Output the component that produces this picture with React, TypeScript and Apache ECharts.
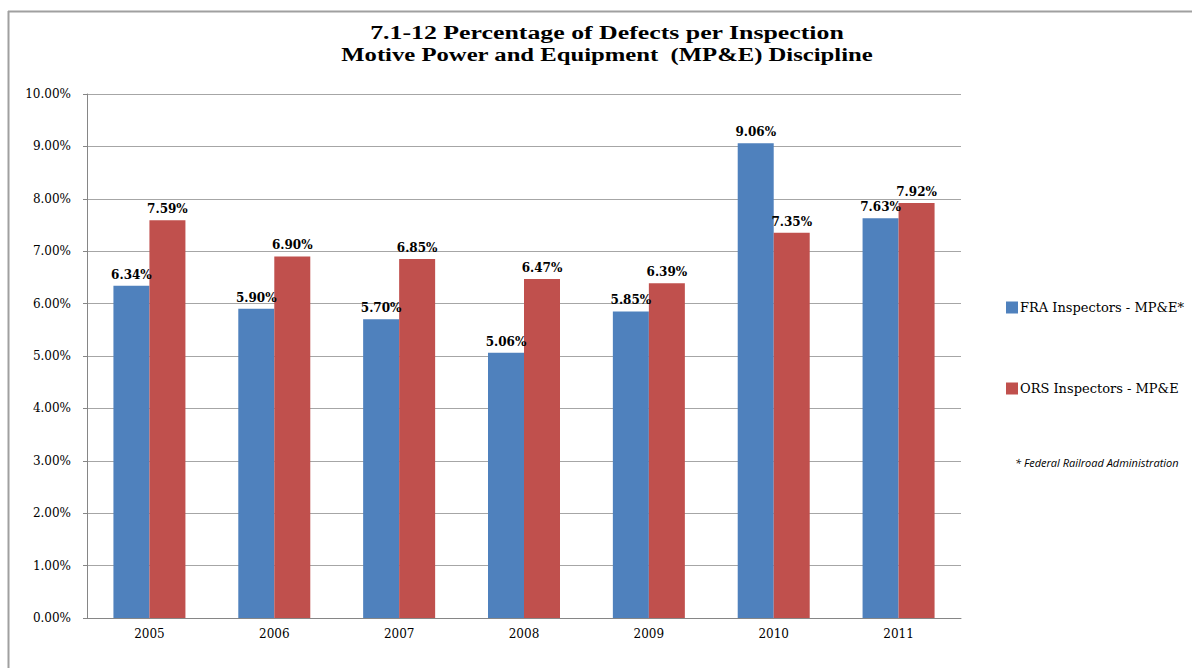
import React, { useEffect, useRef } from "react";
import * as echarts from "echarts";

const years = ["2005", "2006", "2007", "2008", "2009", "2010", "2011"];
const fraValues = [6.34, 5.9, 5.7, 5.06, 5.85, 9.06, 7.63];
const orsValues = [7.59, 6.9, 6.85, 6.47, 6.39, 7.35, 7.92];
const seriesNames = ["FRA Inspectors - MP&E*", "ORS Inspectors - MP&E"];
const titleLines = [
  "7.1-12 Percentage of Defects per Inspection",
  "Motive Power and Equipment  (MP&E) Discipline",
];
const footnote = "* Federal Railroad Administration";

const SERIF = "'Liberation Serif', 'Times New Roman', serif";
const WIDE = "'DejaVu Serif', serif";

export default function App() {
  const ref = useRef<HTMLDivElement>(null);
  useEffect(() => {
    if (!ref.current) return;
    const chart = echarts.init(ref.current, null, { renderer: "svg" });
    const labelOpt = {
      show: true,
      position: "top",
      distance: 5,
      color: "#000",
      fontFamily: WIDE,
      fontWeight: "bold",
      fontSize: 12,
      formatter: (p: any) => p.value.toFixed(2) + "%",
    };
    chart.setOption({
      animation: false,
      backgroundColor: "#fff",
      legend: {
        orient: "vertical",
        left: 1001,
        top: 296,
        itemGap: 68,
        itemWidth: 12,
        itemHeight: 12,
        icon: "rect",
        textStyle: { fontFamily: WIDE, fontSize: 13, color: "#000", padding: [0, 0, 0, -3] },
        data: seriesNames,
      },
      grid: { left: 87, right: 231, top: 94, bottom: 50, containLabel: false },
      xAxis: {
        type: "category",
        data: years,
        axisLine: { lineStyle: { color: "#868686", width: 1 } },
        axisTick: { show: false },
        axisLabel: { fontFamily: WIDE, fontSize: 12, color: "#000", margin: 10 },
      },
      yAxis: {
        type: "value",
        min: 0,
        max: 10,
        interval: 1,
        axisLine: { show: true, lineStyle: { color: "#868686", width: 1 } },
        axisTick: { show: true, length: 4, lineStyle: { color: "#868686" } },
        splitLine: { lineStyle: { color: "#a6a6a6", width: 1 } },
        axisLabel: {
          fontFamily: WIDE,
          fontSize: 12,
          color: "#000",
          margin: 16,
          formatter: (v: number) => v.toFixed(2) + "%",
        },
      },
      series: [
        {
          name: seriesNames[0],
          type: "bar",
          data: fraValues,
          barWidth: 36,
          barGap: "0%",
          itemStyle: { color: "#4F81BD" },
          label: labelOpt,
        },
        {
          name: seriesNames[1],
          type: "bar",
          data: orsValues,
          barWidth: 36,
          barGap: "0%",
          itemStyle: { color: "#C0504D" },
          label: labelOpt,
        },
      ],
      graphic: [
        {
          type: "line",
          shape: { x1: 8, y1: 11.5, x2: 1192, y2: 11.5 },
          style: { stroke: "#a0a0a0", lineWidth: 2 },
        },
        {
          type: "line",
          shape: { x1: 8.5, y1: 11, x2: 8.5, y2: 668 },
          style: { stroke: "#a0a0a0", lineWidth: 2 },
        },
        {
          type: "text",
          x: 607,
          y: 23,
          scaleX: 1.36,
          style: {
            text: titleLines[0],
            fontFamily: SERIF,
            fontWeight: "bold",
            fontSize: 19,
            fill: "#000",
            textAlign: "center",
            textVerticalAlign: "top",
          },
        },
        {
          type: "text",
          x: 607,
          y: 45,
          scaleX: 1.3,
          style: {
            text: titleLines[1],
            fontFamily: SERIF,
            fontWeight: "bold",
            fontSize: 19,
            fill: "#000",
            textAlign: "center",
            textVerticalAlign: "top",
          },
        },
        {
          type: "text",
          left: 1015,
          top: 457,
          style: {
            text: footnote,
            fontFamily: "'Open Sans', sans-serif",
            fontStyle: "italic",
            fontSize: 11,
            fill: "#000",
          },
        },
      ],
    });
    return () => chart.dispose();
  }, []);
  return (
    <div
      ref={ref}
      style={{ position: "absolute", left: 0, top: 0, width: 1192, height: 668 }}
    />
  );
}
